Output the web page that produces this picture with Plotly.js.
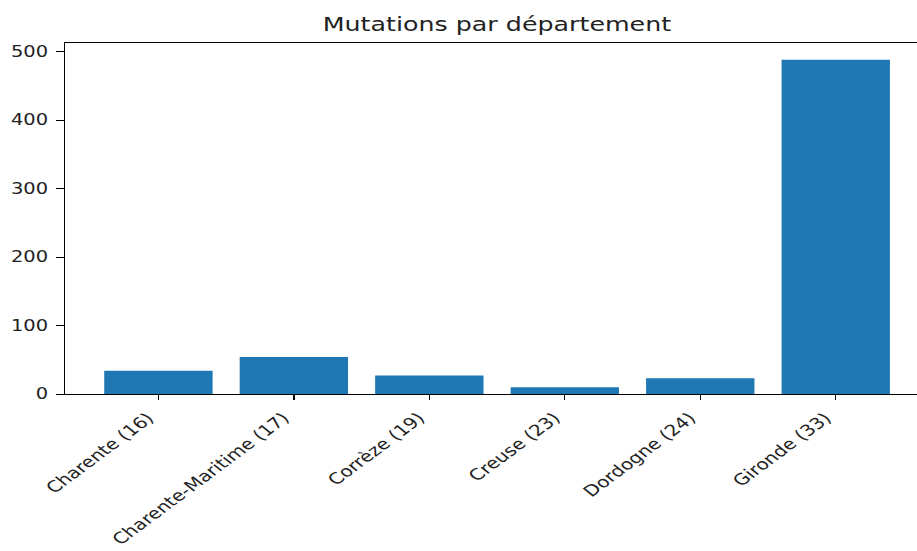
<!DOCTYPE html>
<html>
<head>
<meta charset="utf-8">
<script src="https://cdn.plot.ly/plotly-3.0.1.min.js"></script>
<style>
html, body { margin: 0; padding: 0; background: #fff; overflow: hidden; width: 917px; height: 551px; }
#chart { width: 706px; height: 551px; transform: scaleX(1.2989); transform-origin: 0 0; }
</style>
</head>
<body>
<div id="chart"></div>
<script>
const departements = ["Charente (16)", "Charente-Maritime (17)", "Corrèze (19)", "Creuse (23)", "Dordogne (24)", "Gironde (33)"];
const mutations = [34, 54, 27, 10, 23, 488];
const yTicks = [0, 100, 200, 300, 400, 500];
const chartTitle = "Mutations par département";

const font = "DejaVu Sans, Liberation Sans, sans-serif";

const trace = {
  type: "bar",
  x: departements,
  y: mutations,
  width: 0.8,
  marker: { color: "#1f77b4", line: { width: 0 } },
  hoverinfo: "x+y"
};

const layout = {
  width: 706,
  height: 551,
  margin: { l: 49.7, r: 0, t: 43, b: 157, pad: 0 },
  paper_bgcolor: "#ffffff",
  plot_bgcolor: "#ffffff",
  showlegend: false,
  font: { family: font, size: 15, color: "#222" },
  title: {
    text: chartTitle,
    font: { family: font, size: 19.5, color: "#222" },
    xref: "paper", x: 0.507, xanchor: "center",
    yref: "container", y: 1 - 24.5 / 551, yanchor: "middle"
  },
  xaxis: {
    type: "category",
    range: [-0.69, 5.6],
    showgrid: false,
    zeroline: false,
    showline: true,
    linecolor: "#000",
    linewidth: 1,
    mirror: true,
    ticks: "outside",
    ticklen: 5,
    tickwidth: 1,
    tickcolor: "#000",
    tickangle: -44,
    ticklabelstandoff: 3,
    ticklabelshift: -8,
    tickfont: { family: font, size: 15.5, color: "#222" }
  },
  yaxis: {
    range: [0, 512.4],
    tickvals: yTicks,
    ticktext: yTicks.map(String),
    showgrid: false,
    zeroline: false,
    showline: true,
    linecolor: "#000",
    linewidth: 1,
    mirror: false,
    ticks: "outside",
    ticklen: 6,
    tickwidth: 1,
    tickcolor: "#000",
    ticklabelstandoff: 3,
    tickfont: { family: font, size: 15, color: "#222" }
  }
};

Plotly.newPlot("chart", [trace], layout, { displayModeBar: false, staticPlot: true });
</script>
</body>
</html>
